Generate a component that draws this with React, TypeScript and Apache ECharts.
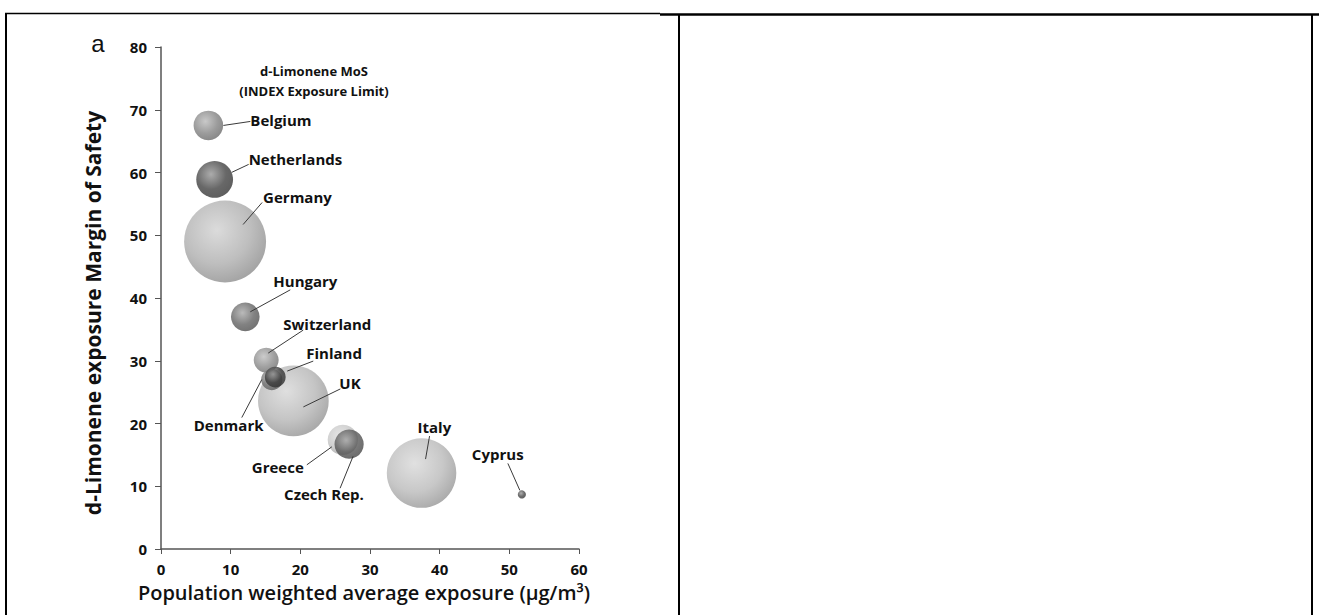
import React, { useEffect, useRef } from "react";
import * as echarts from "echarts";

// ---- data ----
const countries = ["Germany", "Belgium", "Netherlands", "Hungary", "UK", "Switzerland", "Denmark", "Finland", "Greece", "Czech Rep.", "Italy", "Cyprus"];
const exposure = [9.2, 6.8, 7.7, 12.1, 19.0, 15.1, 15.9, 16.4, 26.1, 27.0, 37.4, 51.8];
const marginOfSafety = [49.0, 67.5, 58.9, 37.0, 23.6, 30.1, 27.0, 27.4, 17.4, 16.7, 12.1, 8.7];
const population = [82, 10.7, 16.5, 10, 61, 7.6, 5.5, 5.3, 11.2, 10.4, 59, 0.8];
const xTicks = [0, 10, 20, 30, 40, 50, 60];
const yTicks = [0, 10, 20, 30, 40, 50, 60, 70, 80];

// ---- styling ----
const bubbleShade: Record<string, string> = {
  Germany: "#aeaeae", Belgium: "#838383", Netherlands: "#424242", Hungary: "#636363",
  UK: "#b6b6b6", Switzerland: "#8a8a8a", Denmark: "#707070", Finland: "#3a3a3a",
  Greece: "#c6c6c6", "Czech Rep.": "#585858", Italy: "#bababa", Cyprus: "#474747",
};
// label text anchor [dx, dy] and leader line [x1, y1, x2, y2], px relative to bubble centre
const labelPlacement: Record<string, { text: number[]; line: number[] }> = {
  Germany: { text: [38, -45], line: [18, -17, 37, -39] },
  Belgium: { text: [42, -5], line: [15, 0, 42, -4] },
  Netherlands: { text: [34, -20], line: [17, -7, 34, -15] },
  Hungary: { text: [28, -36], line: [5, -5, 45, -27] },
  UK: { text: [46, -18], line: [10, 6, 47, -12] },
  Switzerland: { text: [17, -36], line: [2, -7, 37, -30] },
  Denmark: { text: [-78, 45], line: [-30, 38, -10, 0] },
  Finland: { text: [31, -24], line: [12, -6, 38, -16] },
  Greece: { text: [-91, 27], line: [-36, 25, -11, 7] },
  "Czech Rep.": { text: [-65, 50], line: [-9, 44, 4, 12] },
  Italy: { text: [-4, -46], line: [4, -14, 8, -37] },
  Cyprus: { text: [-50, -40], line: [-14, -31, -2, -4] },
};
const FONT = "'Open Sans', 'Noto Sans', sans-serif";

function shade(hex: string, f: number) {
  const n = parseInt(hex.slice(1), 16);
  const ch = [(n >> 16) & 255, (n >> 8) & 255, n & 255].map((c) =>
    Math.max(0, Math.min(255, Math.round(f >= 0 ? c + (255 - c) * f : c * (1 + f))))
  );
  return `rgb(${ch[0]},${ch[1]},${ch[2]})`;
}

export default function App() {
  const ref = useRef<HTMLDivElement>(null);
  useEffect(() => {
    if (!ref.current) return;
    const chart = echarts.init(ref.current, null, { renderer: "svg" });
    const points = countries.map((c, i) => ({
      name: c,
      value: [exposure[i], marginOfSafety[i], population[i]],
      itemStyle: {
        color: {
          type: "radial", x: 0.4, y: 0.36, r: 0.68,
          colorStops: [
            { offset: 0, color: shade(bubbleShade[c], 0.45) },
            { offset: 0.6, color: bubbleShade[c] },
            { offset: 1, color: shade(bubbleShade[c], -0.2) },
          ],
        },
      },
    }));
    chart.setOption({
      animation: false,
      backgroundColor: "#ffffff",
      title: {
        text: "d-Limonene MoS\n(INDEX Exposure Limit)",
        left: 309, top: 56, textAlign: "center",
        textStyle: { fontFamily: FONT, fontSize: 13, fontWeight: "bold", color: "#111", lineHeight: 20 },
      },
      grid: { left: 161, top: 47, width: 418, height: 502 },
      xAxis: {
        type: "value", min: xTicks[0], max: xTicks[xTicks.length - 1], interval: 10,
        name: "Population weighted average exposure (μg/m³)",
        nameLocation: "middle", nameGap: 33,
        nameTextStyle: { fontFamily: FONT, fontSize: 20, fontWeight: 600, color: "#111", padding: [0, 12, 0, 0] },
        axisLine: { lineStyle: { color: "#555", width: 1.5 } },
        axisTick: { show: true, length: 5, lineStyle: { color: "#555" } },
        axisLabel: { margin: 12, fontFamily: FONT, fontSize: 15, fontWeight: "bold", color: "#111" },
        splitLine: { show: false },
      },
      yAxis: {
        type: "value", min: yTicks[0], max: yTicks[yTicks.length - 1], interval: 10,
        name: "d-Limonene exposure Margin of Safety",
        nameLocation: "middle", nameGap: 58, nameRotate: 90,
        nameTextStyle: { fontFamily: FONT, fontSize: 21, fontWeight: "bold", color: "#111", padding: [0, 30, 0, 0] },
        axisLine: { show: true, lineStyle: { color: "#555", width: 1.5 } },
        axisTick: { show: true, length: 6, lineStyle: { color: "#555" } },
        axisLabel: { margin: 14, fontFamily: FONT, fontSize: 15, fontWeight: "bold", color: "#111" },
        splitLine: { show: false },
      },
      series: [
        {
          type: "scatter",
          data: points,
          symbolSize: (v: number[]) => Math.sqrt(v[2]) * 9.05,
          z: 2,
        },
        {
          type: "custom",
          z: 5,
          clip: false,
          data: countries.map((c, i) => [exposure[i], marginOfSafety[i]]),
          renderItem: (params: any, api: any) => {
            const i = params.dataIndex;
            const p = api.coord([api.value(0), api.value(1)]);
            const s = labelPlacement[countries[i]];
            return {
              type: "group",
              children: [
                {
                  type: "line",
                  shape: { x1: p[0] + s.line[0], y1: p[1] + s.line[1], x2: p[0] + s.line[2], y2: p[1] + s.line[3] },
                  style: { stroke: "#3a3a3a", lineWidth: 1 },
                },
                {
                  type: "text",
                  x: p[0] + s.text[0], y: p[1] + s.text[1],
                  style: {
                    text: countries[i], fontFamily: FONT, fontSize: 15, fontWeight: "bold",
                    fill: "#111", align: "left", verticalAlign: "middle",
                  },
                },
              ],
            };
          },
        },
      ],
      graphic: [
        { type: "text", x: 98, y: 43, style: { text: "a", fontFamily: "'Liberation Sans', Arial, sans-serif", fontSize: 24, fill: "#111", align: "center", verticalAlign: "middle" } },
        { type: "line", shape: { x1: 5, y1: 13.5, x2: 660, y2: 13.5 }, style: { stroke: "#000", lineWidth: 1.5 } },
        { type: "line", shape: { x1: 660, y1: 14.5, x2: 1319, y2: 14.5 }, style: { stroke: "#000", lineWidth: 2.5 } },
        { type: "line", shape: { x1: 6, y1: 13, x2: 6, y2: 615 }, style: { stroke: "#000", lineWidth: 2 } },
        { type: "line", shape: { x1: 679, y1: 14, x2: 679, y2: 615 }, style: { stroke: "#000", lineWidth: 2 } },
        { type: "line", shape: { x1: 1312, y1: 14, x2: 1312, y2: 615 }, style: { stroke: "#000", lineWidth: 2 } },
      ],
    });
    return () => chart.dispose();
  }, []);
  return <div ref={ref} style={{ position: "fixed", left: 0, top: 0, width: 1319, height: 615 }} />;
}
